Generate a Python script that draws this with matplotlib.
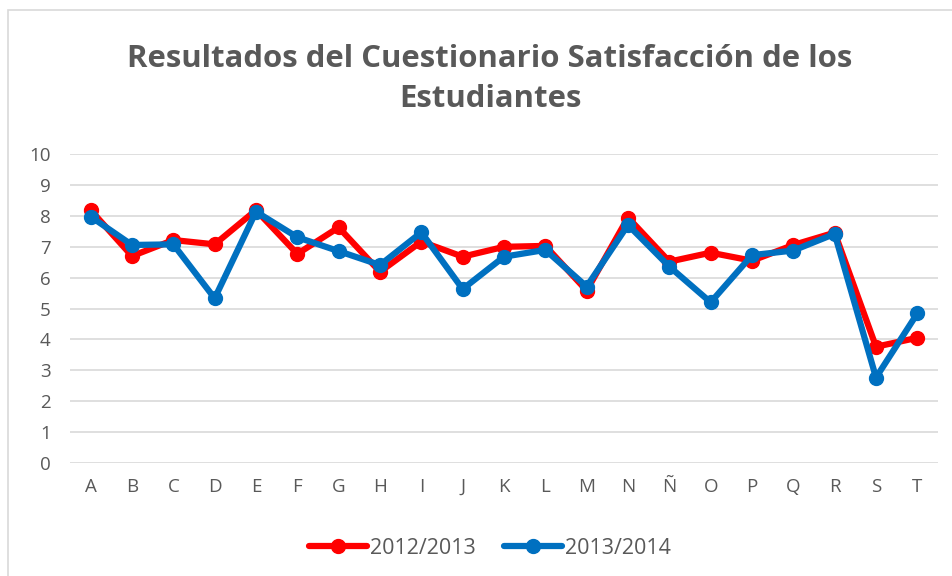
import matplotlib
matplotlib.use("Agg")
import matplotlib.pyplot as plt
from matplotlib.patches import Rectangle

categories = ["A", "B", "C", "D", "E", "F", "G", "H", "I", "J", "K", "L", "M", "N", "Ñ", "O", "P", "Q", "R", "S", "T"]
serie_2012 = [8.19, 6.70, 7.22, 7.08, 8.19, 6.77, 7.63, 6.19, 7.17, 6.68, 7.00, 7.03, 5.58, 7.95, 6.52, 6.81, 6.55, 7.06, 7.46, 3.76, 4.05]
serie_2013 = [7.98, 7.06, 7.08, 5.33, 8.14, 7.31, 6.86, 6.41, 7.47, 5.63, 6.68, 6.90, 5.71, 7.71, 6.36, 5.20, 6.73, 6.88, 7.42, 2.76, 4.84]
labels = ["2012/2013", "2013/2014"]
title = "Resultados del Cuestionario Satisfacción de los\nEstudiantes"

W, H = 953, 576
fig = plt.figure(figsize=(W / 100, H / 100), dpi=100)
fig.patches.append(Rectangle((8 / W, -0.2), 1.2, 1.2 - 10 / H, transform=fig.transFigure,
                             fill=False, edgecolor="#d9d9d9", linewidth=1.2))

ax = fig.add_axes([70 / W, 1 - 462.7 / H, (938 - 70) / W, (462.7 - 154.3) / H])
x = list(range(len(categories)))
ax.plot(x, serie_2012, color="#ff0000", linewidth=4.5, marker="o", markersize=10, label=labels[0],
        solid_capstyle="round", zorder=3)
ax.plot(x, serie_2013, color="#0070c0", linewidth=4.5, marker="o", markersize=10, label=labels[1],
        solid_capstyle="round", zorder=4)

ax.set_xlim(-0.5, len(categories) - 0.5)
ax.set_ylim(0, 10)
ax.set_yticks(range(0, 11))
ax.set_xticks(x)
ax.set_xticklabels(categories)
ax.grid(axis="y", color="#d9d9d9", linewidth=1.2)
ax.set_axisbelow(True)
for s in ax.spines.values():
    s.set_visible(False)
ax.tick_params(length=0, labelsize=13.5, labelcolor="#595959", pad=11)
ax.tick_params(axis="y", pad=14)
for lbl in ax.get_xticklabels() + ax.get_yticklabels():
    lbl.set_fontfamily("Open Sans")

fig.text(490 / W, 1 - 79 / H, title, ha="center", va="center", fontsize=22.4, fontweight="bold",
         color="#595959", family="Open Sans", linespacing=1.42)

leg = fig.legend(loc="center", bbox_to_anchor=(490 / W, 1 - 548 / H), ncol=2, frameon=False,
                 prop={"family": "Open Sans", "size": 15.5}, handlelength=2.7, columnspacing=1.3,
                 handletextpad=0.15)
for t in leg.get_texts():
    t.set_color("#595959")

fig.savefig("out.png", dpi=100)
